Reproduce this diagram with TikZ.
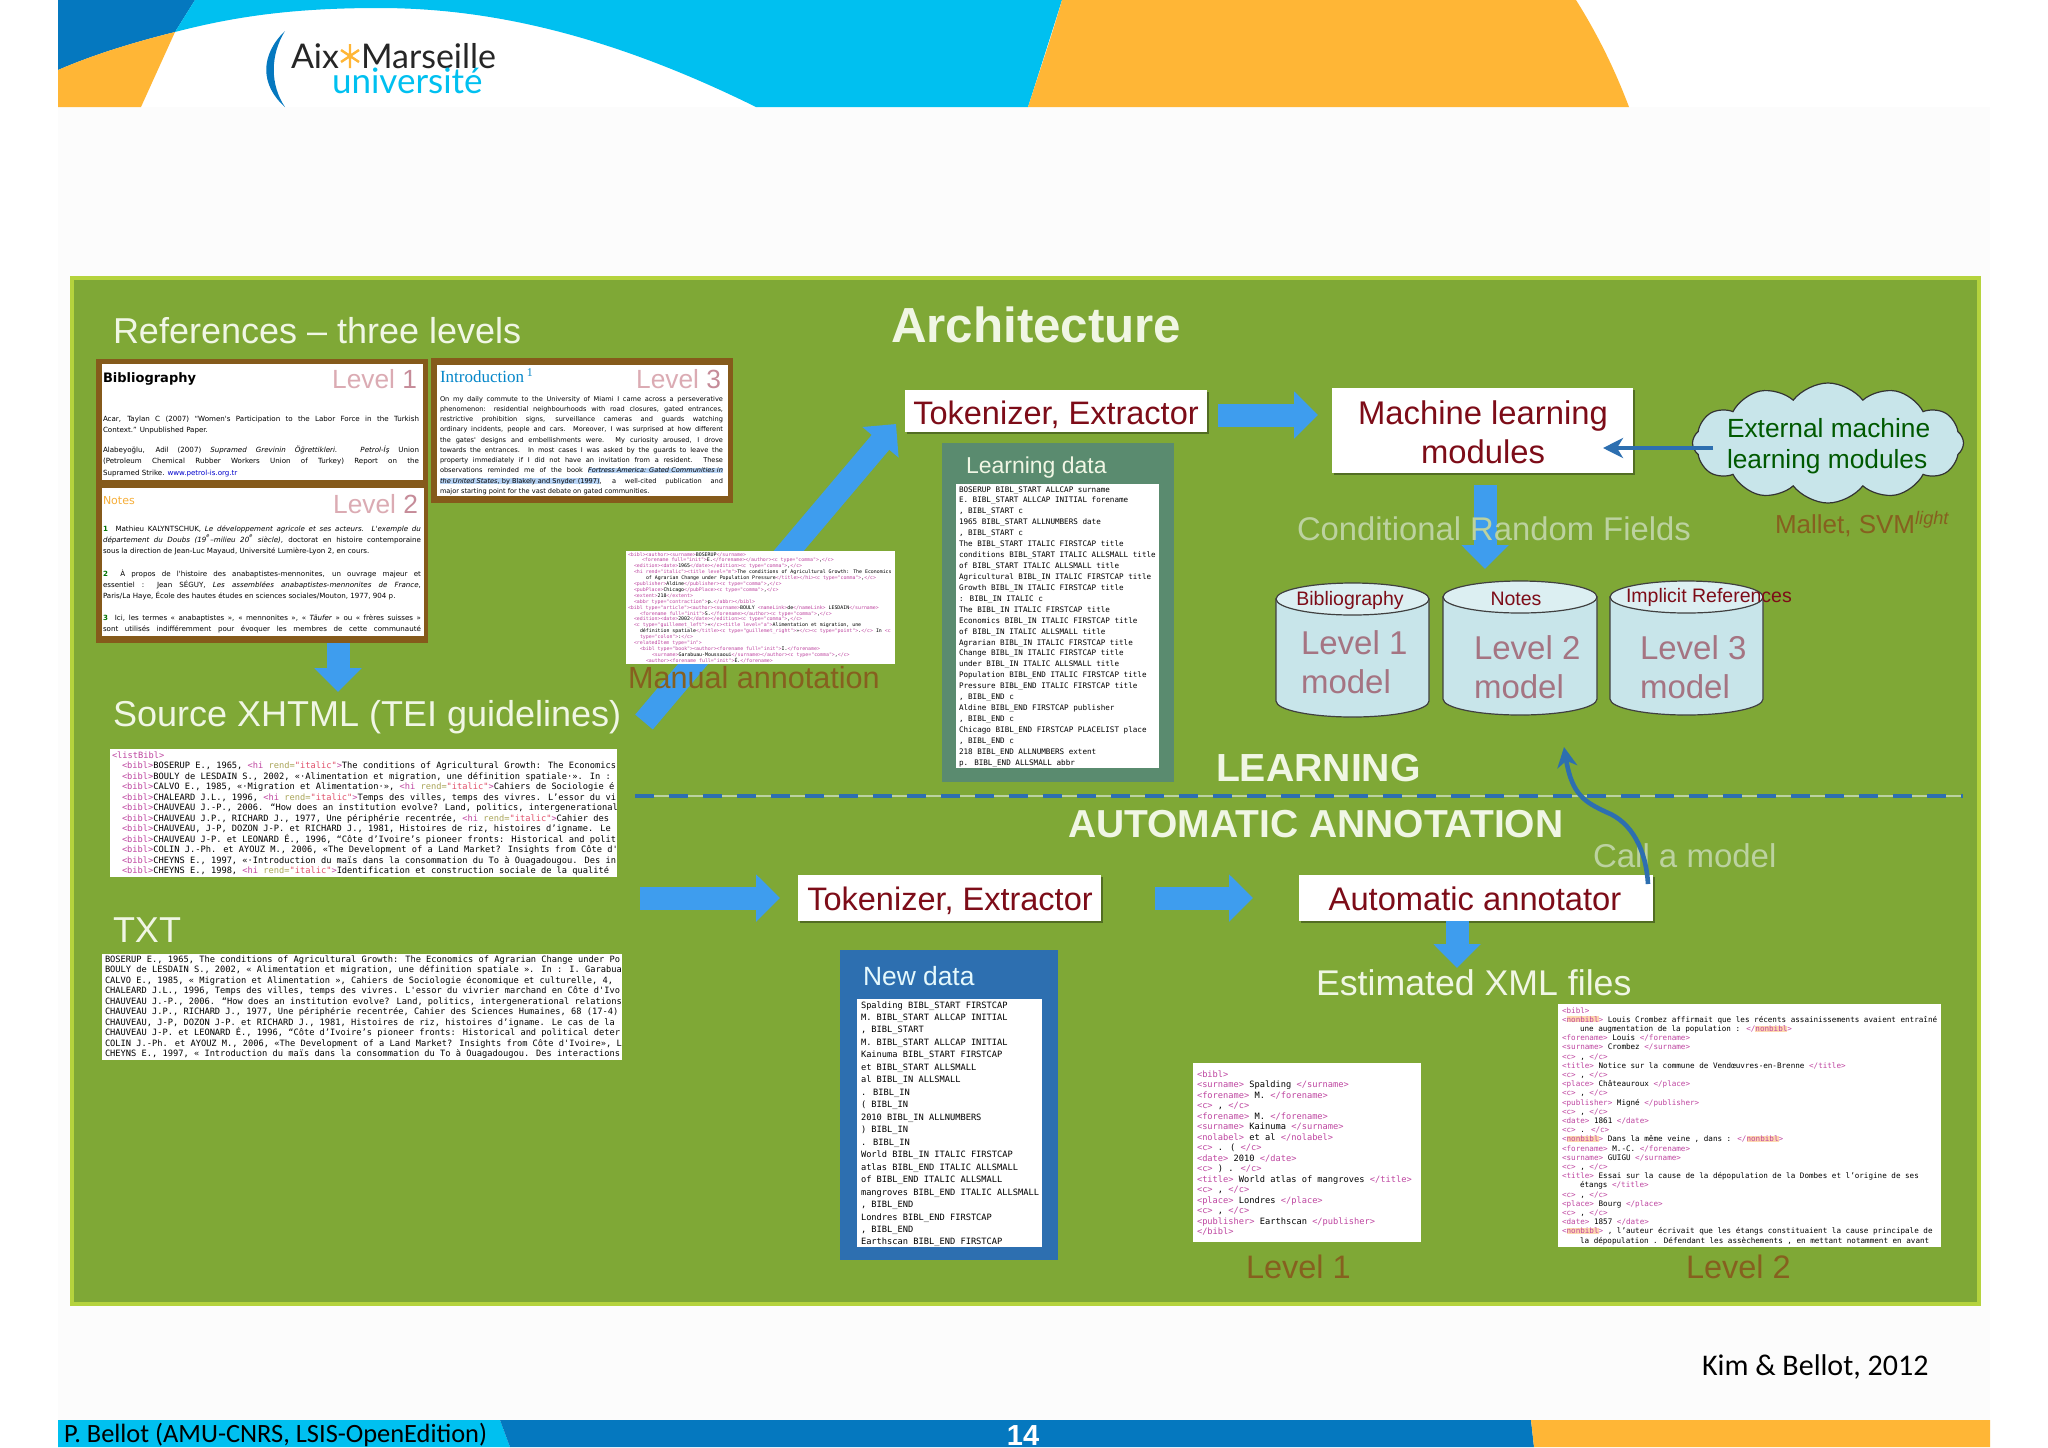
\documentclass[tikz,border=0pt]{standalone}
\usepackage{fontspec}
\usepackage{xcolor}
\setmainfont{Liberation Sans}
\newfontfamily\mono{DejaVu Sans Mono}
\newfontfamily\dvs{DejaVu Sans}
\newfontfamily\carl{Carlito}
\newfontfamily\serifi{Liberation Serif}
\newfontfamily\logof{Lato}
\usetikzlibrary{arrows.meta,shapes.symbols,shadows,calc}
\definecolor{panelc}{HTML}{7FA836}
\definecolor{panelb}{HTML}{B5D33D}
\definecolor{cyanc}{HTML}{00C0F0}
\definecolor{dblue}{HTML}{0578BF}
\definecolor{orangec}{HTML}{FFB636}
\definecolor{lighttxt}{HTML}{F0F6E4}
\definecolor{faintxt}{HTML}{BCD2A0}
\definecolor{brownc}{HTML}{855A1B}
\definecolor{anntxt}{HTML}{86601F}
\definecolor{redt}{HTML}{7D0C18}
\definecolor{arrowc}{HTML}{3E9DEE}
\definecolor{lineb}{HTML}{2D6FB0}
\definecolor{ldc}{HTML}{5A8B6F}
\definecolor{cyl}{HTML}{C8E5EA}
\definecolor{cyltop}{HTML}{DCEFF2}
\definecolor{lvl}{HTML}{A57482}
\definecolor{lvla}{HTML}{DBABB3}
\definecolor{lvlb}{HTML}{C68C99}
\definecolor{tagc}{HTML}{BE45A0}
\definecolor{attc}{HTML}{A9A457}
\definecolor{valc}{HTML}{E0506A}
\definecolor{hlo}{HTML}{FFD9B0}
\definecolor{hlb}{HTML}{B8D4F5}
\newcommand\pf[2]{\fontsize{\dimexpr#1pt/2\relax}{\dimexpr#2pt/2\relax}\selectfont}
\newcommand\tg[1]{\textcolor{tagc}{#1}}
\newcommand\hitag{\tg{<hi }\textcolor{attc}{rend=}\textcolor{valc}{"italic"}\tg{>}}
\newcommand\nb{\colorbox{hlo}{\textcolor{tagc}{nonbibl}}}
\newcommand\hlb[1]{\colorbox{hlb}{#1}}
\setlength{\fboxsep}{0pt}
\newcommand\ind[1]{\hspace*{\dimexpr#1pt/2\relax}}
\newcommand\jl[2]{\makebox[\dimexpr#1pt/2\relax][s]{#2}}
\newcommand\block[6]{\node[anchor=north west,inner sep=0pt,outer sep=0pt,align=left,font={#5}] (#1) at (#2,{#3-0.7*#4}) {\strut #6};}
\newcommand\txt[6]{\node[anchor=#2,inner sep=0pt,outer sep=0pt,font={#5}] (#1) at (#3,#4) {#6};}
\newcommand\rectn[6]{\node[#1,minimum width={(#5-#3)*0.5pt},minimum height={(#6-#4)*0.5pt},inner sep=0pt,outer sep=0pt] (#2) at ({(#3+#5)/2},{(#4+#6)/2}) {};}
\newcommand\cylnd[4]{%
 \fill[cyl,draw=black!75,line width=0.6pt] (#1,#3+16) -- (#1,#4-16) arc[start angle=180,end angle=0,x radius={(#2-#1)/2},y radius=16] -- (#2,#3+16) -- cycle;
 \filldraw[cyltop,draw=black!75,line width=0.6pt] ({(#1+#2)/2},#3+16) ellipse [x radius={(#2-#1)/2},y radius=16];}
\tikzset{
 wbox/.style={draw=none,fill=white},
 sbox/.style={draw=none,fill=white,general shadow={fill=black,opacity=.35,shadow xshift=1pt,shadow yshift=-1pt}},
 blockarrow/.style={arrowc,line width=11.5pt,-{Triangle[length=12pt,width=23pt]}},
 thinarrow/.style={lineb,line width=2.3pt,-{Stealth[length=10pt,width=10pt,inset=3pt]}},
}
\begin{document}
\begin{tikzpicture}[x=0.5pt,y=-0.5pt]
\useasboundingbox (0,0) rectangle (2048,1447);
\fill[white] (0,0) rectangle (2048,1447);
\fill[black!1] (58,107) rectangle (1990,1420);
% header
\fill[dblue] (58,0) -- (195,0) -- (175,32) .. controls (135,42) and (95,54) .. (58,70) -- cycle;
\fill[orangec] (58,70) .. controls (95,54) and (135,42) .. (175,32) -- (141,107) -- (58,107) -- cycle;
\fill[cyanc] (195,0) -- (1062,0) -- (1028,107) -- (756,107) .. controls (600,30) and (480,8) .. (379,8) .. controls (300,8) and (240,15) .. (175,32) -- cycle;
\fill[orangec] (1062,0) -- (1576,0) .. controls (1598,35) and (1615,70) .. (1629,107) -- (1028,107) .. controls (1040,70) and (1052,35) .. (1062,0) -- cycle;
% logo
\fill[dblue] (285,31) .. controls (260,55) and (260,85) .. (285,107) .. controls (270,85) and (270,55) .. (285,31) -- cycle;
\txt{logoa}{base west}{291}{68}{\logof\pf{34}{34}}{\textcolor{black!85}{Aix}}
\txt{logob}{base west}{361}{68}{\logof\pf{34}{34}}{\textcolor{black!85}{Marseille}}
\txt{logoc}{base west}{332}{93}{\logof\pf{35}{35}}{\textcolor{cyanc}{université}}
\draw[orangec,line width=1.2pt] (350,44) -- (350,68) (341,50) -- (359,62) (359,50) -- (341,62);
% panel
\fill[panelc,draw=panelb,line width=2pt] (72,278) rectangle (1979,1304);
% titles
\txt{tRefs}{base west}{113}{343}{\pf{36}{36}}{\textcolor{lighttxt}{References – three levels}}
\txt{tArch}{base west}{891}{342}{\bfseries\pf{49.3}{50}}{\textcolor{lighttxt}{Architecture}}
% level frames
\fill[brownc] (96,359) rectangle (428,643);
\rectn{wbox}{lev1}{102}{364}{423}{480}
\rectn{wbox}{lev2}{102}{488}{424}{636}
\fill[brownc] (431,358) rectangle (733,503);
\rectn{wbox}{lev3}{437}{365}{728}{496}
\txt{l1h}{base west}{103}{382}{\dvs\bfseries\pf{13}{13}}{Bibliography}
\txt{l1l}{base east}{417}{388}{\pf{26.3}{26}}{\textcolor{lvla}{Level }\textcolor{lvlb}{1}}
\block{l1a}{103}{421}{11.5}{\dvs\pf{7.1}{11.5}}{\jl{316}{Acar, Taylan C (2007) “Women's Participation to the Labor Force in the Turkish}\\Context.” Unpublished Paper.}
\block{l1b}{103}{452}{11.5}{\dvs\pf{7.1}{11.5}}{\jl{316}{Alabeyoğlu, Adil (2007) \textit{Supramed Grevinin Öğrettikleri. Petrol-İş} Union}\\\jl{316}{(Petroleum Chemical Rubber Workers Union of Turkey) Report on the}\\Supramed Strike. \textcolor{blue!80!black}{www.petrol-is.org.tr}}
\txt{l2h}{base west}{103}{504}{\dvs\pf{11}{11}}{\textcolor{orangec!85!brown}{Notes}}
\txt{l2l}{base east}{418}{513}{\pf{26.3}{26}}{\textcolor{lvla}{Level }\textcolor{lvlb}{2}}
\block{l2a}{103}{531}{11}{\dvs\pf{7.1}{11}}{\jl{318}{\textcolor{green!45!black}{\bfseries 1}\ \ Mathieu KALYNTSCHUK, \textit{Le développement agricole et ses acteurs. L'exemple du}}\\\jl{318}{\textit{département du Doubs (19\textsuperscript{e}–milieu 20\textsuperscript{e} siècle)}, doctorat en histoire contemporaine}\\sous la direction de Jean-Luc Mayaud, Université Lumière-Lyon 2, en cours.}
\block{l2b}{103}{576}{11}{\dvs\pf{7.1}{11}}{\jl{318}{\textcolor{green!45!black}{\bfseries 2}\ \ À propos de l'histoire des anabaptistes-mennonites, un ouvrage majeur et}\\\jl{318}{essentiel : Jean SÉGUY, \textit{Les assemblées anabaptistes-mennonites de France},}\\Paris/La Haye, École des hautes études en sciences sociales/Mouton, 1977, 904 p.}
\block{l2c}{103}{620}{11}{\dvs\pf{7.1}{11}}{\jl{318}{\textcolor{green!45!black}{\bfseries 3}\ \ Ici, les termes « anabaptistes », « mennonites », « \textit{Täufer} » ou « frères suisses »}\\\jl{318}{sont utilisés indifféremment pour évoquer les membres de cette communauté}}
\txt{l3h}{base west}{440}{382}{\serifi\pf{17}{17}}{\textcolor{dblue!80!cyanc}{Introduction\,\textsuperscript{1}}}
\txt{l3l}{base east}{721}{388}{\pf{26.3}{26}}{\textcolor{lvla}{Level }\textcolor{lvlb}{3}}
\block{l3a}{440}{401}{10.25}{\dvs\pf{6.6}{10.25}}{\jl{283}{On my daily commute to the University of Miami I came across a perseverative}\\
\jl{283}{phenomenon: residential neighbourhoods with road closures, gated entrances,}\\
\jl{283}{restrictive prohibition signs, surveillance cameras and guards watching}\\
\jl{283}{ordinary incidents, people and cars. Moreover, I was surprised at how different}\\
\jl{283}{the gates' designs and embellishments were. My curiosity aroused, I drove}\\
\jl{283}{towards the entrances. In most cases I was asked by the guards to leave the}\\
\jl{283}{property immediately if I did not have an invitation from a resident. These}\\
\jl{283}{observations reminded me of the book \hlb{\textit{Fortress America: Gated Communities in}}}\\
\jl{283}{\hlb{\textit{the United States}, by Blakely and Snyder (1997)}, a well-cited publication and}\\
major starting point for the vast debate on gated communities.}
% arrow down from levels
\coordinate (a0s) at (338,643);
\coordinate (a0e) at (338,692);
\draw[blockarrow] (a0s) -- (a0e);
\txt{tSrc}{base west}{113}{726}{\pf{36}{36}}{\textcolor{lighttxt}{Source XHTML (TEI guidelines)}}
% xhtml box
\rectn{wbox}{xbox}{110}{749}{617}{877}
\block{xt}{112}{758}{10.5}{\mono\pf{8.7}{10.5}}{\tg{<listBibl>}\\
\ind{10}\tg{<bibl>}BOSERUP E., 1965, \hitag The conditions of Agricultural Growth: The Economics\\
\ind{10}\tg{<bibl>}BOULY de LESDAIN S., 2002, «·Alimentation et migration, une définition spatiale·». In :\\
\ind{10}\tg{<bibl>}CALVO E., 1985, «·Migration et Alimentation·», \hitag Cahiers de Sociologie é\\
\ind{10}\tg{<bibl>}CHALEARD J.L., 1996, \hitag Temps des villes, temps des vivres. L’essor du vi\\
\ind{10}\tg{<bibl>}CHAUVEAU J.-P., 2006. “How does an institution evolve? Land, politics, intergenerational\\
\ind{10}\tg{<bibl>}CHAUVEAU J.P., RICHARD J., 1977, Une périphérie recentrée, \hitag Cahier des\\
\ind{10}\tg{<bibl>}CHAUVEAU, J-P, DOZON J-P. et RICHARD J., 1981, Histoires de riz, histoires d’igname. Le\\
\ind{10}\tg{<bibl>}CHAUVEAU J-P. et LEONARD É., 1996, “Côte d’Ivoire’s pioneer fronts: Historical and polit\\
\ind{10}\tg{<bibl>}COLIN J.-Ph. et AYOUZ M., 2006, «The Development of a Land Market? Insights from Côte d'\\
\ind{10}\tg{<bibl>}CHEYNS E., 1997, «·Introduction du maïs dans la consommation du To à Ouagadougou. Des in\\
\ind{10}\tg{<bibl>}CHEYNS E., 1998, \hitag Identification et construction sociale de la qualité}
% txt
\txt{tTxt}{base west}{113}{942}{\pf{36}{36}}{\textcolor{lighttxt}{TXT}}
\rectn{wbox}{tbox}{102}{954}{622}{1060}
\block{tt}{105}{962}{10.5}{\mono\pf{8.7}{10.5}}{BOSERUP E., 1965, The conditions of Agricultural Growth: The Economics of Agrarian Change under Po\\
BOULY de LESDAIN S., 2002, « Alimentation et migration, une définition spatiale ». In : I. Garabua\\
CALVO E., 1985, « Migration et Alimentation », Cahiers de Sociologie économique et culturelle, 4,\\
CHALEARD J.L., 1996, Temps des villes, temps des vivres. L'essor du vivrier marchand en Côte d'Ivo\\
CHAUVEAU J.-P., 2006. “How does an institution evolve? Land, politics, intergenerational relations\\
CHAUVEAU J.P., RICHARD J., 1977, Une périphérie recentrée, Cahier des Sciences Humaines, 68 (17-4)\\
CHAUVEAU, J-P, DOZON J-P. et RICHARD J., 1981, Histoires de riz, histoires d’igname. Le cas de la\\
CHAUVEAU J-P. et LEONARD É., 1996, “Côte d’Ivoire’s pioneer fronts: Historical and political deter\\
COLIN J.-Ph. et AYOUZ M., 2006, «The Development of a Land Market? Insights from Côte d'Ivoire», L\\
CHEYNS E., 1997, « Introduction du maïs dans la consommation du To à Ouagadougou. Des interactions}
% top tokenizer + diagonal
\rectn{sbox}{tokA}{905}{390}{1207}{432}
\txt{tokAt}{base}{1056}{424}{\pf{32.5}{34}}{\textcolor{redt}{Tokenizer, Extractor}}
\coordinate (a1s) at (644,722);
\coordinate (a1e) at (896,424);
\draw[blockarrow] (a1s) -- (a1e);
\txt{tMan}{base west}{628}{688}{\pf{30.6}{32}}{\textcolor{anntxt}{Manual annotation}}
% manual box
\rectn{wbox}{mbox}{626}{551}{895}{664}
\block{mt}{628}{556}{5.9}{\mono\pf{4.9}{5.9}}{\tg{<bibl><author><surname>}BOSERUP\tg{</surname>}\\
\ind{14}\tg{<forename full="init">}E.\tg{</forename></author><c type="comma">},\tg{</c>}\\
\ind{6}\tg{<edition><date>}1965\tg{</date></edition><c type="comma">},\tg{</c>}\\
\ind{6}\tg{<hi rend="italic"><title level="m">}The conditions of Agricultural Growth: The Economics\\
\ind{18}of Agrarian Change under Population Pressure\tg{</title></hi><c type="comma">},\tg{</c>}\\
\ind{6}\tg{<publisher>}Aldine\tg{</publisher><c type="comma">},\tg{</c>}\\
\ind{6}\tg{<pubPlace>}Chicago\tg{</pubPlace><c type="comma">},\tg{</c>}\\
\ind{6}\tg{<extent>}218\tg{</extent>}\\
\ind{6}\tg{<abbr type="contraction">}p.\tg{</abbr></bibl>}\\
\tg{<bibl type="article"><author><surname>}BOULY \tg{<nameLink>}de\tg{</nameLink>} LESDAIN\tg{</surname>}\\
\ind{12}\tg{<forename full="init">}S.\tg{</forename></author><c type="comma">},\tg{</c>}\\
\ind{6}\tg{<edition><date>}2002\tg{</date></edition><c type="comma">},\tg{</c>}\\
\ind{6}\tg{<c type="guillemet\_left">}«\tg{</c><title level="a">}Alimentation et migration, une\\
\ind{12}définition spatiale\tg{</title><c type="guillemet\_right">}»\tg{</c><c type="point">}.\tg{</c>} In \tg{<c}\\
\ind{12}\tg{type="colon">}:\tg{</c>}\\
\ind{6}\tg{<relatedItem type="in">}\\
\ind{12}\tg{<bibl type="book"><author><forename full="init">}I.\tg{</forename>}\\
\ind{24}\tg{<surname>}Garabuau-Moussaoui\tg{</surname></author><c type="comma">},\tg{</c>}\\
\ind{18}\tg{<author><forename full="init">}É.\tg{</forename>}}
% machine learning
\coordinate (a2s) at (1218,415);
\coordinate (a2e) at (1318,415);
\draw[blockarrow] (a2s) -- (a2e);
\rectn{sbox}{ml}{1332}{388}{1633}{473}
\txt{mla}{base}{1483}{424}{\pf{32.8}{34}}{\textcolor{redt}{Machine learning}}
\txt{mlb}{base}{1483}{463}{\pf{32.8}{34}}{\textcolor{redt}{modules}}
% learning data
\rectn{draw=none,fill=ldc}{ldbg}{942}{443}{1174}{782}
\rectn{wbox}{ldw}{956}{484}{1159}{768}
\txt{ldt}{base west}{966}{473}{\pf{23}{23}}{\textcolor{lighttxt}{Learning data}}
\block{ldx}{959}{492}{10.93}{\mono\pf{7.6}{10.93}}{BOSERUP BIBL\_START ALLCAP surname\\
E. BIBL\_START ALLCAP INITIAL forename\\
, BIBL\_START c\\
1965 BIBL\_START ALLNUMBERS date\\
, BIBL\_START c\\
The BIBL\_START ITALIC FIRSTCAP title\\
conditions BIBL\_START ITALIC ALLSMALL title\\
of BIBL\_START ITALIC ALLSMALL title\\
Agricultural BIBL\_IN ITALIC FIRSTCAP title\\
Growth BIBL\_IN ITALIC FIRSTCAP title\\
: BIBL\_IN ITALIC c\\
The BIBL\_IN ITALIC FIRSTCAP title\\
Economics BIBL\_IN ITALIC FIRSTCAP title\\
of BIBL\_IN ITALIC ALLSMALL title\\
Agrarian BIBL\_IN ITALIC FIRSTCAP title\\
Change BIBL\_IN ITALIC FIRSTCAP title\\
under BIBL\_IN ITALIC ALLSMALL title\\
Population BIBL\_END ITALIC FIRSTCAP title\\
Pressure BIBL\_END ITALIC FIRSTCAP title\\
, BIBL\_END c\\
Aldine BIBL\_END FIRSTCAP publisher\\
, BIBL\_END c\\
Chicago BIBL\_END FIRSTCAP PLACELIST place\\
, BIBL\_END c\\
218 BIBL\_END ALLNUMBERS extent\\
p. BIBL\_END ALLSMALL abbr}
% cloud
\node[cloud,cloud puffs=12,cloud puff arc=105,aspect=2.3,draw=black!80,line width=0.6pt,fill=cyl,minimum width=135.5pt,minimum height=60pt,inner sep=0pt,outer sep=0pt] (cloudn) at (1828,443) {};
\txt{cla}{base west}{1727}{437}{\pf{26.3}{29}}{\textcolor{green!35!black}{External machine}}
\txt{clb}{base west}{1727}{468}{\pf{26.3}{29}}{\textcolor{green!35!black}{learning modules}}
\coordinate (a3s) at (1713,448);
\coordinate (a3e) at (1603,448);
\draw[thinarrow] (a3s) -- (a3e);
\txt{mal}{base west}{1775}{533}{\pf{26}{27}}{\textcolor{anntxt}{Mallet, SVM\textsuperscript{\textit{light}}}}
% crf arrow
\coordinate (a4s) at (1485,485);
\coordinate (a4e) at (1485,569);
\draw[blockarrow] (a4s) -- (a4e);
\txt{crf}{base west}{1297}{540}{\pf{32.8}{34}}{\textcolor{faintxt}{Conditional Random Fields}}
% cylinders
\cylnd{1276}{1429}{583}{717}
\cylnd{1443}{1597}{581}{715}
\cylnd{1610}{1763}{581}{715}
\txt{c1h}{base}{1350}{605}{\pf{19.5}{20}}{\textcolor{redt}{Bibliography}}
\txt{c2h}{base}{1516}{605}{\pf{19.5}{20}}{\textcolor{redt}{Notes}}
\txt{c3h}{base west}{1626}{602}{\pf{19.5}{20}}{\textcolor{redt}{Implicit References}}
\txt{c1a}{base west}{1301}{654}{\pf{33}{33}}{\textcolor{lvl}{Level 1}}
\txt{c1b}{base west}{1301}{693}{\pf{33}{33}}{\textcolor{lvl}{model}}
\txt{c2a}{base west}{1474}{659}{\pf{33}{33}}{\textcolor{lvl}{Level 2}}
\txt{c2b}{base west}{1474}{698}{\pf{33}{33}}{\textcolor{lvl}{model}}
\txt{c3a}{base west}{1640}{659}{\pf{33}{33}}{\textcolor{lvl}{Level 3}}
\txt{c3b}{base west}{1640}{698}{\pf{33}{33}}{\textcolor{lvl}{model}}
% divider
\txt{tLearn}{base west}{1216}{781}{\bfseries\pf{39.2}{41}}{\textcolor{lighttxt}{LEARNING}}
\coordinate (ds) at (635,796);
\coordinate (de) at (1963,796);
\draw[faintxt,line width=0.7pt] (ds) -- (de);
\draw[lineb,line width=2.4pt,dash pattern=on 9.5pt off 7.5pt] (ds) -- (de);
\txt{tAuto}{base west}{1068}{837}{\bfseries\pf{39}{41}}{\textcolor{lighttxt}{AUTOMATIC ANNOTATION}}
% lower row
\coordinate (a5s) at (640,898);
\coordinate (a5e) at (780,898);
\draw[blockarrow] (a5s) -- (a5e);
\rectn{sbox}{tokB}{798}{875}{1101}{921}
\txt{tokBt}{base}{950}{910}{\pf{32.5}{34}}{\textcolor{redt}{Tokenizer, Extractor}}
\coordinate (a6s) at (1155,898);
\coordinate (a6e) at (1253,898);
\draw[blockarrow] (a6s) -- (a6e);
\rectn{sbox}{auto}{1299}{875}{1653}{921}
\txt{autot}{base}{1475}{910}{\pf{32.7}{34}}{\textcolor{redt}{Automatic annotator}}
\coordinate (a7s) at (1457,921);
\coordinate (a7e) at (1457,968);
\draw[blockarrow] (a7s) -- (a7e);
\txt{tCall}{base west}{1593}{867}{\pf{33}{33}}{\textcolor{faintxt}{Call a model}}
\coordinate (a8s) at (1648,884);
\coordinate (a8e) at (1564,747);
\draw[thinarrow] (a8s) .. controls (1646,850) and (1632,822) .. (1606,812) .. controls (1585,802) and (1572,795) .. (a8e);
\txt{tEst}{base west}{1316}{995}{\pf{35.7}{35}}{\textcolor{lighttxt}{Estimated XML files}}
% new data
\rectn{draw=none,fill=lineb}{ndbg}{840}{950}{1058}{1260}
\rectn{wbox}{ndw}{857}{999}{1042}{1247}
\txt{ndt}{base west}{863}{985}{\pf{26.4}{26}}{\textcolor{white!90!cyanc}{New data}}
\block{ndx}{861}{1008}{12.47}{\mono\pf{8.7}{12.47}}{Spalding BIBL\_START FIRSTCAP\\
M. BIBL\_START ALLCAP INITIAL\\
, BIBL\_START\\
M. BIBL\_START ALLCAP INITIAL\\
Kainuma BIBL\_START FIRSTCAP\\
et BIBL\_START ALLSMALL\\
al BIBL\_IN ALLSMALL\\
. BIBL\_IN\\
( BIBL\_IN\\
2010 BIBL\_IN ALLNUMBERS\\
) BIBL\_IN\\
. BIBL\_IN\\
World BIBL\_IN ITALIC FIRSTCAP\\
atlas BIBL\_END ITALIC ALLSMALL\\
of BIBL\_END ITALIC ALLSMALL\\
mangroves BIBL\_END ITALIC ALLSMALL\\
, BIBL\_END\\
Londres BIBL\_END FIRSTCAP\\
, BIBL\_END\\
Earthscan BIBL\_END FIRSTCAP}
% result level 1
\rectn{wbox}{r1}{1193}{1063}{1421}{1242}
\block{r1x}{1197}{1077}{10.5}{\mono\pf{8.7}{10.5}}{\tg{<bibl>}\\
\tg{<surname>} Spalding \tg{</surname>}\\
\tg{<forename>} M. \tg{</forename>}\\
\tg{<c>} , \tg{</c>}\\
\tg{<forename>} M. \tg{</forename>}\\
\tg{<surname>} Kainuma \tg{</surname>}\\
\tg{<nolabel>} et al \tg{</nolabel>}\\
\tg{<c>} . ( \tg{</c>}\\
\tg{<date>} 2010 \tg{</date>}\\
\tg{<c>} ) . \tg{</c>}\\
\tg{<title>} World atlas of mangroves \tg{</title>}\\
\tg{<c>} , \tg{</c>}\\
\tg{<place>} Londres \tg{</place>}\\
\tg{<c>} , \tg{</c>}\\
\tg{<publisher>} Earthscan \tg{</publisher>}\\
\tg{</bibl>}}
\txt{r1l}{base west}{1246}{1278}{\pf{32.5}{33}}{\textcolor{anntxt}{Level 1}}
% result level 2
\rectn{wbox}{r2}{1558}{1004}{1941}{1247}
\block{r2x}{1562}{1013}{9.2}{\mono\pf{7.6}{9.2}}{\tg{<bibl>}\\
\tg{<}\nb\tg{>} Louis Crombez affirmait que les récents assainissements avaient entraîné\\
\ind{18}une augmentation de la population : \tg{</}\nb\tg{>}\\
\tg{<forename>} Louis \tg{</forename>}\\
\tg{<surname>} Crombez \tg{</surname>}\\
\tg{<c>} , \tg{</c>}\\
\tg{<title>} Notice sur la commune de Vendœuvres-en-Brenne \tg{</title>}\\
\tg{<c>} , \tg{</c>}\\
\tg{<place>} Châteauroux \tg{</place>}\\
\tg{<c>} , \tg{</c>}\\
\tg{<publisher>} Migné \tg{</publisher>}\\
\tg{<c>} , \tg{</c>}\\
\tg{<date>} 1861 \tg{</date>}\\
\tg{<c>} . \tg{</c>}\\
\tg{<}\nb\tg{>} Dans la même veine , dans : \tg{</}\nb\tg{>}\\
\tg{<forename>} M.-C. \tg{</forename>}\\
\tg{<surname>} GUIGU \tg{</surname>}\\
\tg{<c>} , \tg{</c>}\\
\tg{<title>} Essai sur la cause de la dépopulation de la Dombes et l’origine de ses\\
\ind{18}étangs \tg{</title>}\\
\tg{<c>} , \tg{</c>}\\
\tg{<place>} Bourg \tg{</place>}\\
\tg{<c>} , \tg{</c>}\\
\tg{<date>} 1857 \tg{</date>}\\
\tg{<}\nb\tg{>} , l’auteur écrivait que les étangs constituaient la cause principale de\\
\ind{18}la dépopulation . Défendant les assèchements , en mettant notamment en avant}
\txt{r2l}{base west}{1686}{1278}{\pf{32.5}{33}}{\textcolor{anntxt}{Level 2}}
% citation and footer
\txt{kim}{base west}{1702}{1375}{\carl\pf{30}{30}}{Kim \& Bellot, 2012}
\fill[cyanc] (58,1420) -- (500,1420) -- (510,1447) -- (58,1447) -- cycle;
\fill[dblue] (500,1420) -- (1531,1420) -- (1534,1447) -- (510,1447) -- cycle;
\fill[orangec] (1531,1420) -- (1990,1420) -- (1990,1447) -- (1534,1447) -- cycle;
\txt{foot}{base west}{64}{1442}{\carl\pf{26.4}{27}}{P. Bellot (AMU-CNRS, LSIS-OpenEdition)}
\txt{pg}{base}{1023}{1445}{\bfseries\pf{29}{29}}{\textcolor{white}{14}}
\end{tikzpicture}
\end{document}
